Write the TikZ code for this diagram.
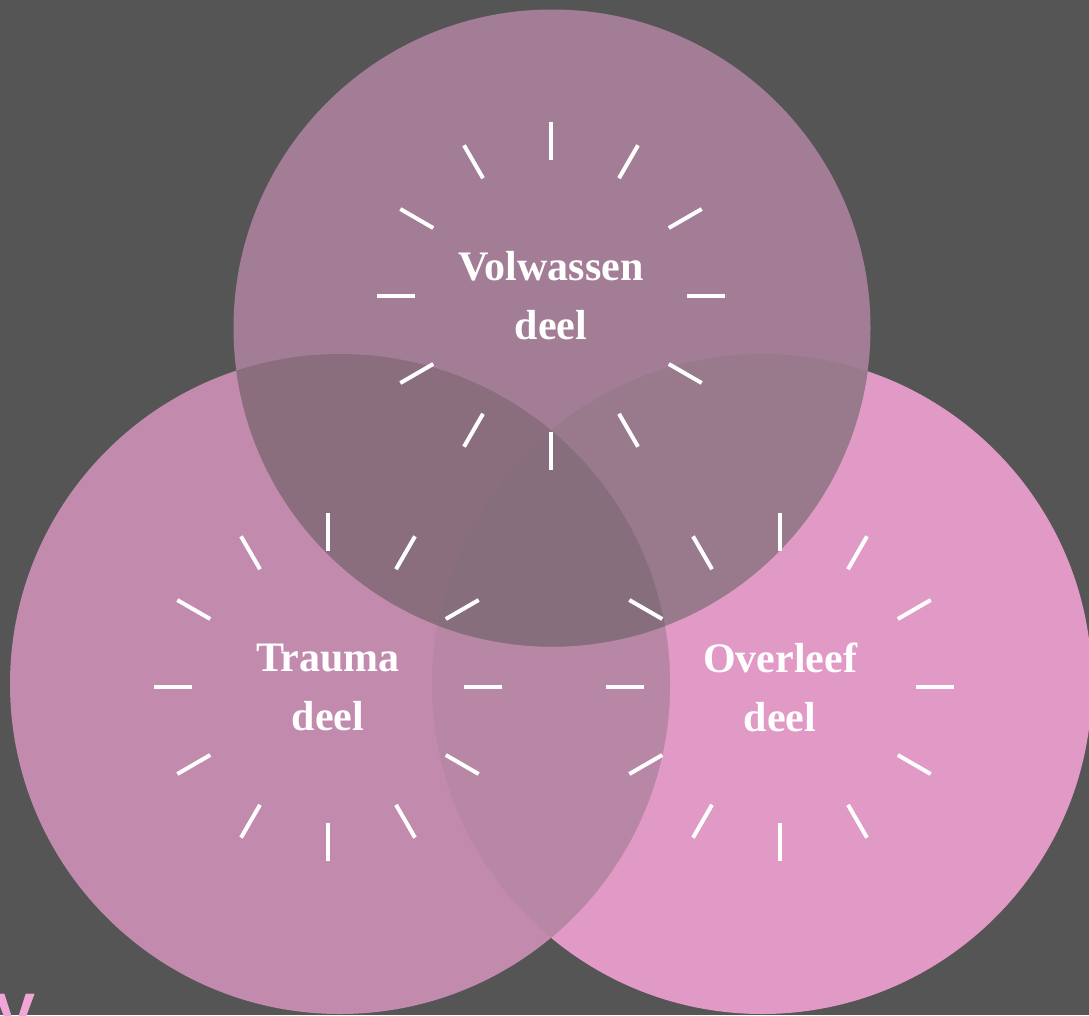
\documentclass[tikz,border=0pt]{standalone}
\usepackage{fontspec}
\setmainfont{Liberation Serif}
\setsansfont{Liberation Sans}
\usetikzlibrary{calc}

\definecolor{bggrey}{HTML}{555555}
\definecolor{colTop}{HTML}{A37D95}
\definecolor{colLeft}{HTML}{C28AAD}
\definecolor{colRight}{HTML}{E19AC6}
\definecolor{colLR}{HTML}{B887A5}
\definecolor{colTL}{HTML}{8A6E7E}
\definecolor{colTR}{HTML}{987A8C}
\definecolor{colTLR}{HTML}{876E7D}
\definecolor{colV}{HTML}{F2A6D8}

\begin{document}
\begin{tikzpicture}[x=1pt, y=-1pt]
    % --- CONFIGURAZIONE ---
    \tikzset{
        tick_style/.style={white, line width=4pt},
        label_style/.style={text=white, align=center, inner sep=0pt,
            font=\bfseries\fontsize{42}{59}\selectfont}
    }

    % Raggi dei cerchi
    \def\Rtop{318.5pt}
    \def\Rbot{330pt}
    % Raggi dei trattini
    \def\Rin{136}
    \def\Rout{174}

    \useasboundingbox[fill=bggrey] (0,0) rectangle (1089,1015);

    % Centri
    \coordinate (c_top) at (552,328);
    \coordinate (c_left) at (340,684);
    \coordinate (c_right) at (762,684);

    % ===================================================
    % 1. CERCHI INFERIORI
    % ===================================================
    \fill[colRight] (c_right) circle (\Rbot);
    \fill[colLeft] (c_left) circle (\Rbot);
    \begin{scope}
        \clip (c_left) circle (\Rbot);
        \fill[colLR] (c_right) circle (\Rbot);
    \end{scope}

    % ===================================================
    % 2. CERCHIO SUPERIORE
    % ===================================================
    \fill[colTop] (c_top) circle (\Rtop);
    \begin{scope}
        \clip (c_top) circle (\Rtop);
        \fill[colTL] (c_left) circle (\Rbot);
        \fill[colTR] (c_right) circle (\Rbot);
        \clip (c_left) circle (\Rbot);
        \fill[colTLR] (c_right) circle (\Rbot);
    \end{scope}

    % ===================================================
    % 3. ETICHETTE E TRATTINI
    % ===================================================
    \foreach \name/\x/\y/\txt in {
        volwassen/551/296/{Volwassen\\deel},
        trauma/328/687/{Trauma\\deel},
        overleef/780/687/{Overleef\\deel}%
    } {
        \node[label_style] (\name) at (\x,\y) {\txt};
        \foreach \a in {0,30,...,330} {
            \draw[tick_style] ($(\x,\y)+(\a:\Rin)$) -- ($(\x,\y)+(\a:\Rout)$);
        }
    }

    % Lettera tagliata in basso
    \node[font=\sffamily\bfseries\fontsize{60}{60}\selectfont, text=colV,
        inner sep=0pt, anchor=base west] (v_letter) at (-5,1035) {V};

\end{tikzpicture}
\end{document}
